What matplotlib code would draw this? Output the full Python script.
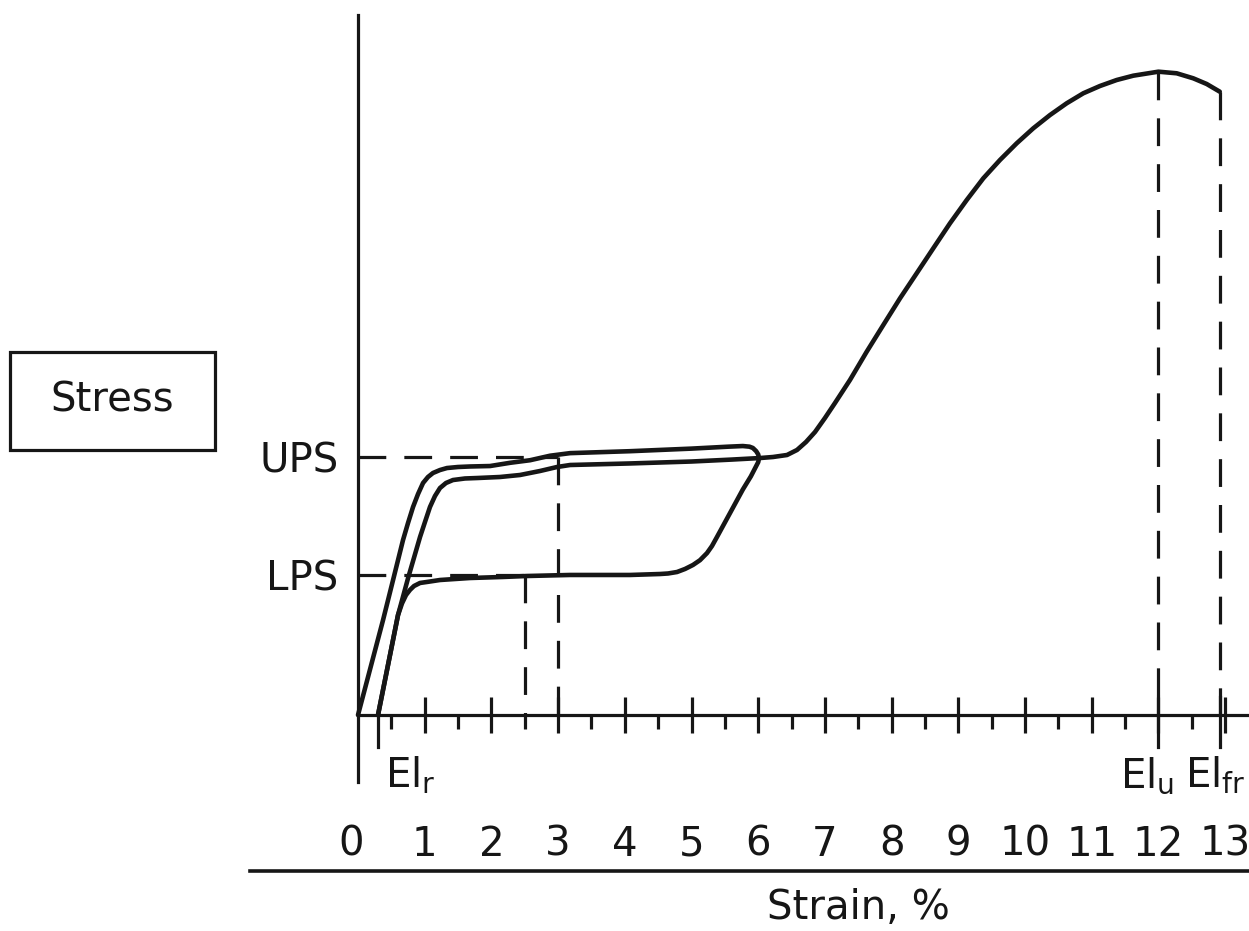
import matplotlib
matplotlib.use("Agg")
import matplotlib.pyplot as plt
from matplotlib.patches import Rectangle
from matplotlib.transforms import ScaledTranslation

plt.rcParams['font.family'] = ['DejaVu Sans']
plt.rcParams['mathtext.fontset'] = 'dejavusans'
plt.rcParams['lines.scale_dashes'] = False

# ---------------- data (strain %, stress in relative units) ----------------
UPS = 40.0
LPS = 21.7
EL_R = 0.30
EL_U = 12.0
EL_FR = 12.92
PEAK = 99.74
FRACTURE = 96.64

# first loading to 6 %, unloading to the LPS plateau, back to the residual strain
load_unload_strain = [0.0, 0.375, 0.525, 0.675, 0.75, 0.825, 0.90, 0.975, 1.049, 1.124, 1.229, 1.334,
                      1.499, 1.679, 1.98, 2.28, 2.58, 2.88, 3.18, 4.08, 5.0, 5.55, 5.77, 5.87, 5.92,
                      5.97, 6.0, 6.012, 6.0, 5.89, 5.77, 5.577, 5.382, 5.307, 5.232, 5.127, 5.022,
                      4.903, 4.783, 4.648, 4.528, 4.078, 3.18, 2.53, 2.17, 1.68, 1.229, 1.05, 0.93,
                      0.84, 0.78, 0.72, 0.66, 0.60, 0.45, EL_R]
load_unload_stress = [0.0, 14.7, 20.9, 27.13, 29.77, 32.25, 34.26, 35.97, 36.9, 37.52, 37.98, 38.29,
                      38.45, 38.53, 38.6, 39.1, 39.5, 40.2, 40.6, 40.9, 41.3, 41.6, 41.7, 41.6, 41.4,
                      40.9, 40.4, 39.8, 39.2, 37.0, 34.97, 31.3, 27.6, 26.2, 25.1, 24.0, 23.26,
                      22.64, 22.17, 21.94, 21.86, 21.71, 21.71, 21.55, 21.40, 21.24, 20.93, 20.65, 20.47,
                      20.0, 19.4, 18.6, 17.3, 15.5, 7.75, 0.0]

# reloading from the residual strain up to fracture
reload_strain = [EL_R, 0.45, 0.60, 0.75, 0.84, 0.93, 1.004, 1.079, 1.154, 1.229, 1.319, 1.424,
                 1.604, 1.784, 2.129, 2.429, 2.729, 2.984, 3.18, 4.08, 5.0, 5.6, 6.027, 6.222,
                 6.432, 6.582, 6.717, 6.852, 7.001, 7.151, 7.376, 7.627, 7.876, 8.126, 8.376,
                 8.625, 8.875, 9.126, 9.375, 9.625, 9.876, 10.124, 10.375, 10.625, 10.874,
                 11.124, 11.375, 11.624, EL_U, 12.274, 12.523, 12.724, EL_FR]
reload_stress = [0.0, 7.75, 15.5, 21.2, 24.4, 27.6, 29.92, 32.25, 33.95, 35.19, 35.97, 36.43,
                 36.67, 36.74, 36.90, 37.21, 37.83, 38.45, 38.76, 39.0, 39.3, 39.6, 39.84, 40.0,
                 40.31, 41.09, 42.33, 43.88, 46.05, 48.37, 51.94, 56.33, 60.47, 64.6, 68.48,
                 72.36, 76.23, 79.84, 83.21, 86.05, 88.64, 90.96, 93.02, 94.84, 96.39,
                 97.52, 98.45, 99.12, PEAK, 99.49, 98.71, 97.83, FRACTURE]

tick_values = list(range(0, 14))
tick_labels = [str(v) for v in tick_values]
minor_values = [v + 0.5 for v in range(0, 13)]

# ---------------- figure ----------------
W, H = 1249, 931
fig = plt.figure(figsize=(W / 100, H / 100), dpi=100)
ax = fig.add_axes([0, 0, 1, 1])
U = 66.7   # px per strain unit
V = 6.45   # px per stress unit
x0, y0 = 358, 715
ax.set_xlim(-x0 / U, (W - x0) / U)
ax.set_ylim(-(H - y0) / V, y0 / V)
ax.set_facecolor('white')

ink = '#161616'
FS = 29
LW_C = 3.3
LW_A = 2.3

for s in ['top', 'right']:
    ax.spines[s].set_visible(False)
ax.spines['left'].set_position(('data', 0))
ax.spines['bottom'].set_position(('data', 0))
ax.spines['left'].set_bounds(-(782 - y0) / V, (y0 - 15) / V)
ax.spines['bottom'].set_bounds(0, (W - x0) / U)
for s in ['left', 'bottom']:
    ax.spines[s].set_linewidth(LW_A)
    ax.spines[s].set_color(ink)

ax.set_xticks(tick_values, tick_labels)
ax.set_xticks(minor_values, minor=True)
ax.tick_params(axis='x', which='major', direction='inout', length=26, width=LW_A,
               color=ink, labelsize=FS, labelcolor=ink, pad=66)
ax.tick_params(axis='x', which='minor', direction='out', length=10, width=LW_A, color=ink)
ax.set_yticks([LPS, UPS], ['LPS', 'UPS'])
ax.tick_params(axis='y', which='major', length=0, labelsize=FS, labelcolor=ink, pad=14)
t0 = ax.xaxis.get_major_ticks()[0]
t0.tick1line.set_visible(False)
t0.label1.set_transform(t0.label1.get_transform() +
                        ScaledTranslation(-7 / 100, 0, fig.dpi_scale_trans))

# curves
ax.plot(load_unload_strain, load_unload_stress, color=ink, lw=LW_C,
        solid_joinstyle='round', solid_capstyle='round')
ax.plot(reload_strain, reload_stress, color=ink, lw=LW_C,
        solid_joinstyle='round', solid_capstyle='round')

# dashed guide lines
dash = dict(color=ink, lw=LW_A, linestyle=(0, (20, 13)))
ax.plot([0, 3.0], [UPS, UPS], **dash)
ax.plot([0, 2.5], [LPS, LPS], **dash)
ax.plot([2.5, 2.5], [LPS, 0], **dash)
ax.plot([3.0, 3.0], [UPS, 0], **dash)
ax.plot([EL_U, EL_U], [PEAK, 0], **dash)
ax.plot([EL_FR, EL_FR], [FRACTURE, 0], **dash)

# marker ticks for the elongations
low = -(747 - y0) / V
ax.plot([EL_R, EL_R], [0, low], color=ink, lw=LW_A)
ax.plot([EL_U, EL_U], [2.8, low], color=ink, lw=LW_A)
ax.plot([EL_FR, EL_FR], [2.8, low], color=ink, lw=LW_A)

lab_y = -(787 - y0) / V
ax.text(EL_R + 0.1, lab_y, r'El$_\mathregular{r}$', fontsize=FS, color=ink, ha='left', va='baseline')
ax.text(11.42, lab_y, r'El$_\mathregular{u}$', fontsize=FS, color=ink, ha='left', va='baseline')
ax.text(12.40, lab_y, r'El$_\mathregular{fr}$', fontsize=FS, color=ink, ha='left', va='baseline')

# rule under the tick labels and axis title
rule_y = -(871 - y0) / V
ax.plot([(250 - x0) / U, (W - x0) / U], [rule_y, rule_y], color=ink, lw=2.6, clip_on=False)
ax.text((858 - x0) / U, -(919 - y0) / V, 'Strain, %', fontsize=FS, color=ink,
        ha='center', va='baseline')

# Stress box
bx0, bx1 = (10 - x0) / U, (215 - x0) / U
by0, by1 = (y0 - 450) / V, (y0 - 352) / V
ax.add_patch(Rectangle((bx0, by0), bx1 - bx0, by1 - by0, fill=False, ec=ink, lw=LW_A))
ax.text((bx0 + bx1) / 2, (by0 + by1) / 2, 'Stress', fontsize=FS, color=ink,
        ha='center', va='center')

fig.savefig('out.png', dpi=100)
